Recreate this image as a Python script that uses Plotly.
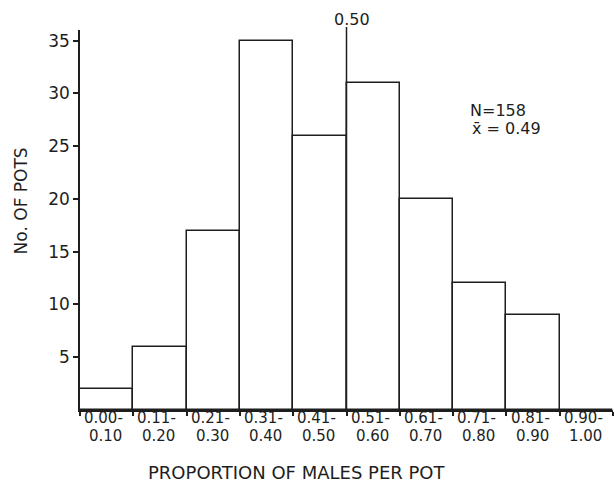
import plotly.graph_objects as go

bin_low = ["0.00-", "0.11-", "0.21-", "0.31-", "0.41-", "0.51-", "0.61-", "0.71-", "0.81-", "0.90-"]
bin_high = ["0.10", "0.20", "0.30", "0.40", "0.50", "0.60", "0.70", "0.80", "0.90", "1.00"]
counts = [2, 6, 17, 35, 26, 31, 20, 12, 9, 0]
y_ticks = [5, 10, 15, 20, 25, 30, 35]

INK = "#1e1e1e"
FONT = "DejaVu Sans"

x_centers = [i + 0.5 for i in range(len(counts))]
edges = list(range(len(counts) + 1))

fig = go.Figure()
fig.add_trace(go.Bar(
    x=x_centers, y=counts, width=1,
    marker=dict(color="white", line=dict(color=INK, width=1.5)),
    showlegend=False, hoverinfo="skip",
))

annotations = []
for xc, lo, hi in zip(x_centers, bin_low, bin_high):
    annotations.append(dict(x=xc, y=0, xref="x", yref="y", text=lo, showarrow=False,
                            yanchor="middle", yshift=-8, xshift=-3,
                            font=dict(family=FONT, size=15, color=INK)))
    annotations.append(dict(x=xc, y=0, xref="x", yref="y", text=hi, showarrow=False,
                            yanchor="middle", yshift=-26, xshift=-1,
                            font=dict(family=FONT, size=15, color=INK)))

annotations += [
    dict(x=5, y=1.0, xref="x", yref="paper", text="0.50", showarrow=False,
         yanchor="middle", xanchor="center", yshift=11, xshift=5,
         font=dict(family=FONT, size=16, color=INK)),
    dict(x=0.728, y=0.787, xref="paper", yref="paper", text="N=158", showarrow=False,
         xanchor="left", yanchor="middle",
         font=dict(family=FONT, size=16, color=INK)),
    dict(x=0.732, y=0.742, xref="paper", yref="paper", text="x\u0304 = 0.49", showarrow=False,
         xanchor="left", yanchor="middle",
         font=dict(family=FONT, size=16, color=INK)),
    dict(x=0, y=0.549, xref="paper", yref="paper", text="No. OF POTS", showarrow=False,
         textangle=-90, xanchor="center", yanchor="middle", xshift=-59,
         font=dict(family=FONT, size=17, color=INK)),
    dict(x=0.407, y=0, xref="paper", yref="paper", text="PROPORTION OF MALES PER POT",
         showarrow=False, xanchor="center", yanchor="middle", yshift=-62,
         font=dict(family=FONT, size=18, color=INK)),
]

fig.add_shape(type="line", xref="x", yref="paper", x0=5, x1=5, y0=0, y1=1.008,
              line=dict(color=INK, width=1.5))

fig.update_layout(
    width=615, height=483,
    margin=dict(l=80, r=2, t=30, b=73),
    paper_bgcolor="white", plot_bgcolor="white",
    bargap=0,
    annotations=annotations,
    xaxis=dict(range=[0, 10], showgrid=False, zeroline=False, showline=True,
               linecolor=INK, linewidth=1.5, tickvals=edges, ticks="outside",
               ticklen=4, tickwidth=1.5, tickcolor=INK, showticklabels=False),
    yaxis=dict(range=[0, 36], showgrid=False, zeroline=False, showline=True,
               linecolor=INK, linewidth=1.5, tickvals=y_ticks, ticks="outside",
               ticklen=5, tickwidth=1.5, tickcolor=INK,
               tickfont=dict(family=FONT, size=17, color=INK)),
)

fig.write_html("out.html", config={"displayModeBar": False},
               post_script="document.body.style.margin='0';document.body.style.overflow='hidden';")
